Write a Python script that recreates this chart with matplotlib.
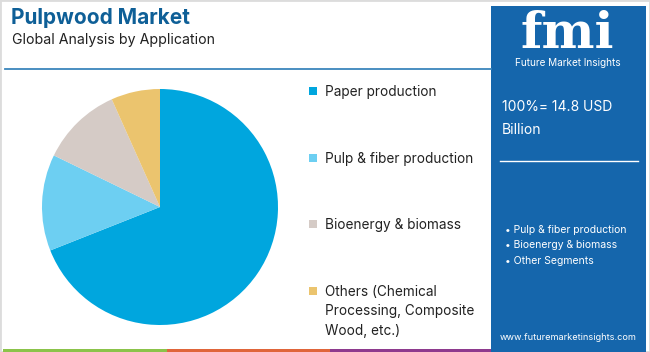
import matplotlib.pyplot as plt
from matplotlib.patches import Rectangle

plt.rcParams['font.family'] = ['Inter', 'DejaVu Sans']

segments = ['Paper production', 'Pulp & fiber production', 'Bioenergy & biomass',
            'Others (Chemical\nProcessing, Composite\nWood, etc.)']
shares = [69.0, 13.2, 11.1, 6.7]
colors = ['#00A6DE', '#6DCFF2', '#D5CBC6', '#EBC46E']
total_label = '100%= 14.8 USD\nBillion'
panel_items = ['Pulp & fiber production', 'Bioenergy & biomass', 'Other Segments']

W, H = 650, 352
fig = plt.figure(figsize=(W / 100, H / 100), dpi=100)
fig.patch.set_facecolor('white')


def fx(x):
    return x / W


def fy(y):
    return 1 - y / H


# outer frame
fig.patches.append(Rectangle((0, 0), 1, 1, transform=fig.transFigure,
                             facecolor='none', edgecolor='#DCDCDC', lw=2))

# titles
fig.text(fx(11), fy(18), 'Pulpwood Market', fontsize=15, fontweight='bold',
         color='#0E5F97', va='center')
fig.text(fx(12), fy(40), 'Global Analysis by Application', fontsize=10.2,
         color='#222222', va='center')
fig.add_artist(plt.Line2D([fx(5), fx(491)], [fy(69), fy(69)], color='#3A86BC',
                          lw=1.3, transform=fig.transFigure))

# pie
cx, cy, r = 160, 207, 118
ax = fig.add_axes([fx(cx - r), 1 - (cy + r) / H, 2 * r / W, 2 * r / H])
ax.pie(shares, colors=colors, startangle=90, counterclock=False,
       wedgeprops=dict(linewidth=0))
ax.set_xlim(-1, 1)
ax.set_ylim(-1, 1)
ax.axis('off')

# legend
leg_y = [91, 158, 224, 291]
for name, col, y in zip(segments, colors, leg_y):
    fig.patches.append(Rectangle((fx(309), fy(y + 4)), 8 / W, 8 / H,
                                 transform=fig.transFigure, facecolor=col,
                                 edgecolor='none'))
    fig.text(fx(325), fy(y - 6), name, fontsize=9.8, color='#222222',
             va='top', linespacing=1.5)

# bottom strip
for x0, x1, col in [(3, 167, '#8BC34A'), (167, 330, '#E0653A'), (330, 493, '#8E3A8E')]:
    fig.patches.append(Rectangle((fx(x0), 0), (x1 - x0) / W, 3 / H,
                                 transform=fig.transFigure, facecolor=col,
                                 edgecolor='none'))

# right panel
fig.patches.append(Rectangle((fx(491), 0), (646 - 491) / W, fy(6),
                             transform=fig.transFigure, facecolor='#1566AC',
                             edgecolor='none'))
fig.text(fx(567), fy(10), 'fmi', fontsize=36, fontweight='bold',
         family=['DejaVu Serif'], color='white', ha='center', va='top')
fig.text(fx(568), fy(63), 'Future Market Insights', fontsize=7.2,
         color='white', ha='center', va='center')
fig.text(fx(502), fy(100), total_label, fontsize=10, color='white',
         va='top', linespacing=1.85)
fig.add_artist(plt.Line2D([fx(500), fx(638)], [fy(161), fy(161)], color='white',
                          lw=1, transform=fig.transFigure))
for i, item in enumerate(panel_items):
    fig.text(fx(505), fy(230 + i * 15.5), '\u2022 ' + item, fontsize=7.5,
             color='white', va='center')
fig.text(fx(568), fy(337), 'www.futuremarketinsights.com', fontsize=6.6,
         color='white', ha='center', va='center')

fig.savefig('out.png', dpi=100)
